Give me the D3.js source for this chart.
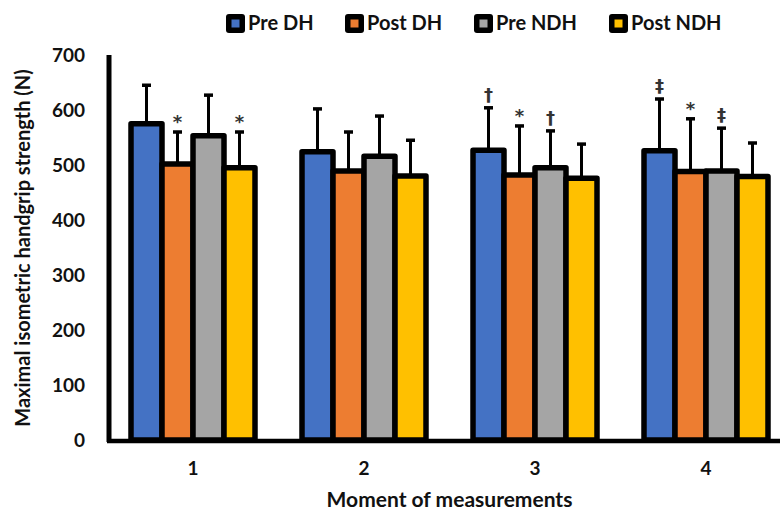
<!DOCTYPE html>
<html>
<head>
<meta charset="utf-8">
<script src="https://cdn.jsdelivr.net/npm/d3@7"></script>
<style>
  html, body { margin: 0; padding: 0; background: #fff; }
  svg { display: block; }
  text { font-family: Lato, "Open Sans", sans-serif; font-weight: bold; fill: #111; }
</style>
</head>
<body>
<svg id="chart" width="782" height="510"></svg>
<script>
const categories = ["1", "2", "3", "4"];
const seriesNames = ["Pre DH", "Post DH", "Pre NDH", "Post NDH"];
const seriesColors = ["#4472C4", "#ED7D31", "#A5A5A5", "#FFC000"];
const preDH   = [575, 524, 527, 526];
const postDH  = [502, 489, 482, 488];
const preNDH  = [553, 516, 495, 489];
const postNDH = [495, 480, 476, 479];
const preDH_sd   = [70, 78, 77, 94];
const postDH_sd  = [58, 71, 89, 96];
const preNDH_sd  = [74, 73, 67, 78];
const postNDH_sd = [65, 65, 62, 61];
const marksPreDH   = ["", "", "†", "‡"];
const marksPostDH  = ["*", "", "*", "*"];
const marksPreNDH  = ["", "", "†", "‡"];
const marksPostNDH = ["*", "", "", ""];
const yTicks = [0, 100, 200, 300, 400, 500, 600, 700];

const values = [preDH, postDH, preNDH, postNDH];
const sds = [preDH_sd, postDH_sd, preNDH_sd, postNDH_sd];
const marks = [marksPreDH, marksPostDH, marksPreNDH, marksPostNDH];

const data = [];
categories.forEach((c, ci) => {
  seriesNames.forEach((s, si) => {
    data.push({cat: c, series: s, si, value: values[si][ci], sd: sds[si][ci], mark: marks[si][ci]});
  });
});

const svg = d3.select("#chart");
const y = d3.scaleLinear().domain([0, 700]).range([440, 55]);
const x0 = d3.scaleBand().domain(categories).range([107.5, 791.5]);
const groupW = 124;
const x1 = d3.scaleBand().domain(seriesNames).range([0, groupW]);
const bx = d => x0(d.cat) + (x0.bandwidth() - groupW) / 2 + x1(d.series);

// error bars
const eb = svg.append("g");
eb.selectAll("line.v").data(data).join("line")
  .attr("x1", d => bx(d) + x1.bandwidth() / 2)
  .attr("x2", d => bx(d) + x1.bandwidth() / 2)
  .attr("y1", d => y(d.value))
  .attr("y2", d => y(d.value + d.sd))
  .attr("stroke", "#000").attr("stroke-width", 3);
eb.selectAll("line.c").data(data).join("line")
  .attr("x1", d => bx(d) + x1.bandwidth() / 2 - 4.5)
  .attr("x2", d => bx(d) + x1.bandwidth() / 2 + 4.5)
  .attr("y1", d => y(d.value + d.sd))
  .attr("y2", d => y(d.value + d.sd))
  .attr("stroke", "#000").attr("stroke-width", 3.5);

// bars
svg.append("g").selectAll("rect").data(data).join("rect")
  .attr("x", d => bx(d))
  .attr("width", x1.bandwidth())
  .attr("y", d => y(d.value))
  .attr("height", d => y(0) - y(d.value))
  .attr("fill", d => seriesColors[d.si])
  .attr("stroke", "#000").attr("stroke-width", 5.5)
  .attr("stroke-linejoin", "round");

// significance marks
svg.append("g").selectAll("text").data(data.filter(d => d.mark)).join("text")
  .attr("x", d => bx(d) + x1.bandwidth() / 2)
  .attr("y", d => y(d.value + d.sd) - (d.mark === "*" ? 4 : 7))
  .attr("text-anchor", "middle")
  .style("font-size", "18px")
  .style("font-family", "'DejaVu Sans', sans-serif")
  .style("font-weight", "bold")
  .style("fill", "#333")
  .text(d => d.mark);

// axes
const yAxis = svg.append("g").attr("transform", "translate(109,0)")
  .call(d3.axisLeft(y).tickValues(yTicks).tickSize(0).tickPadding(24).tickFormat(d3.format("d")));
yAxis.select(".domain").attr("stroke", "#000").attr("stroke-width", 5).attr("d", `M0,${y(700)}V${y(0)+2}`);
yAxis.selectAll("text").style("font-size", "19px").style("font-family", "Lato, sans-serif").style("font-weight", "bold").attr("fill", "#111");

const xAxis = svg.append("g").attr("transform", "translate(0,441)")
  .call(d3.axisBottom(x0).tickSize(0).tickPadding(21));
xAxis.select(".domain").attr("stroke", "#000").attr("stroke-width", 4.5).attr("d", "M107,0H780");
xAxis.selectAll("text").style("font-size", "19px").style("font-family", "Lato, sans-serif").style("font-weight", "bold").attr("fill", "#111");

// axis titles
svg.append("text")
  .attr("transform", "translate(30,248) rotate(-90)")
  .attr("text-anchor", "middle")
  .style("font-size", "20px")
  .text("Maximal isometric handgrip strength (N)");
svg.append("text")
  .attr("x", 449.5).attr("y", 507)
  .attr("text-anchor", "middle")
  .style("font-size", "21px")
  .text("Moment of measurements");

// legend
const legendX = [226, 345, 474, 609];
const lg = svg.append("g").selectAll("g").data(seriesNames).join("g")
  .attr("transform", (d, i) => `translate(${legendX[i]},14)`);
lg.append("rect").attr("width", 19).attr("height", 19).attr("rx", 3).attr("fill", "#000");
lg.append("rect").attr("x", 5.5).attr("y", 5.5).attr("width", 8).attr("height", 8).attr("fill", (d, i) => seriesColors[i]);
lg.append("text").attr("x", 22).attr("y", 16).style("font-size", "20px").text(d => d);
</script>
</body>
</html>
